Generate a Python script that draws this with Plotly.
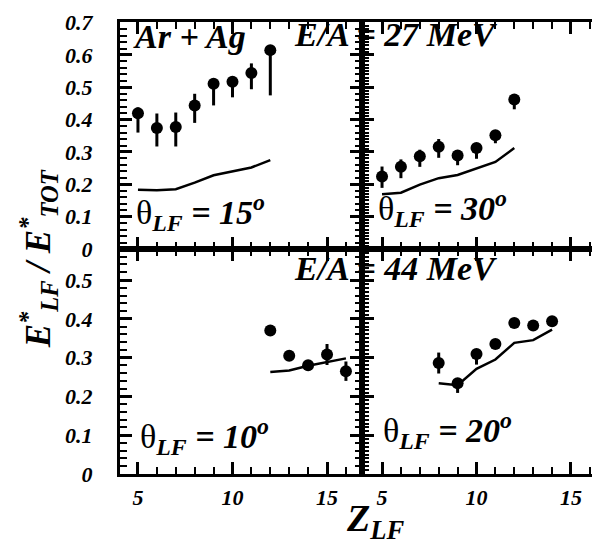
import plotly.graph_objects as go
from plotly.subplots import make_subplots

# E/A = 27 MeV, theta = 15 deg (top left)
z_tl = [5, 6, 7, 8, 9, 10, 11, 12]
e_tl = [0.420, 0.374, 0.377, 0.444, 0.511, 0.517, 0.544, 0.615]
up_tl = [0.018, 0.045, 0.045, 0.036, 0.014, 0.010, 0.030, 0.0]
dn_tl = [0.060, 0.057, 0.060, 0.054, 0.067, 0.048, 0.050, 0.140]
zc_tl = [5, 6, 7, 8, 9, 10, 11, 12]
calc_tl = [0.183, 0.182, 0.185, 0.205, 0.228, 0.240, 0.252, 0.275]

# E/A = 27 MeV, theta = 30 deg (top right)
z_tr = [5, 6, 7, 8, 9, 10, 11, 12]
e_tr = [0.224, 0.254, 0.287, 0.316, 0.289, 0.312, 0.352, 0.462]
up_tr = [0.031, 0.023, 0.020, 0.024, 0.010, 0.015, 0.010, 0.010]
dn_tr = [0.035, 0.035, 0.033, 0.034, 0.030, 0.033, 0.025, 0.030]
zc_tr = [5, 6, 7, 8, 9, 10, 11, 12]
calc_tr = [0.169, 0.174, 0.199, 0.219, 0.229, 0.249, 0.269, 0.312]

# E/A = 44 MeV, theta = 10 deg (bottom left)
z_bl = [12, 13, 14, 15, 16]
e_bl = [0.370, 0.305, 0.280, 0.308, 0.265]
up_bl = [0.0, 0.0, 0.0, 0.027, 0.025]
dn_bl = [0.0, 0.0, 0.0, 0.027, 0.025]
zc_bl = [12, 13, 14, 15, 16]
calc_bl = [0.263, 0.267, 0.279, 0.289, 0.298]

# E/A = 44 MeV, theta = 20 deg (bottom right)
z_br = [8, 9, 10, 11, 12, 13, 14]
e_br = [0.286, 0.234, 0.309, 0.335, 0.389, 0.383, 0.394]
up_br = [0.027, 0.010, 0.010, 0.005, 0.0, 0.0, 0.0]
dn_br = [0.027, 0.025, 0.027, 0.005, 0.0, 0.0, 0.0]
zc_br = [8, 9, 10, 11, 12, 13, 14]
calc_br = [0.234, 0.229, 0.271, 0.295, 0.338, 0.345, 0.372]

panels = [
    (1, 1, z_tl, e_tl, up_tl, dn_tl, zc_tl, calc_tl),
    (1, 2, z_tr, e_tr, up_tr, dn_tr, zc_tr, calc_tr),
    (2, 1, z_bl, e_bl, up_bl, dn_bl, zc_bl, calc_bl),
    (2, 2, z_br, e_br, up_br, dn_br, zc_br, calc_br),
]

FONT = "Liberation Serif, Times New Roman, Times, serif"

fig = make_subplots(rows=2, cols=2, column_widths=[242, 236], row_heights=[233, 231],
                    horizontal_spacing=0, vertical_spacing=0)

for r, c, z, e, up, dn, zc, calc in panels:
    fig.add_trace(go.Scatter(x=zc, y=calc, mode="lines",
                             line=dict(color="black", width=2.5)), row=r, col=c)
    fig.add_trace(go.Scatter(x=z, y=e, mode="markers",
                             marker=dict(color="black", size=12),
                             error_y=dict(type="data", symmetric=False, array=up, arrayminus=dn,
                                          color="black", thickness=3, width=0)), row=r, col=c)

tickfont = dict(family=FONT, size=22, color="black", weight="bold", style="italic")

extra = {}
for k, (r, c) in enumerate([(1, 1), (1, 2), (2, 1), (2, 2)]):
    n = "" if k == 0 else str(k + 1)
    xr = [4.05, 16.85] if c == 1 else [3.94, 16.43]
    yr = [0, 0.702] if r == 1 else [0, 0.58]
    fig.update_xaxes(
        range=xr, showline=True, linewidth=3, linecolor="black", mirror="ticks",
        ticks="inside", ticklen=12, tickwidth=3, tickcolor="black", dtick=5,
        minor=dict(ticks="inside", ticklen=7, tickwidth=2, tickcolor="black", dtick=1),
        showgrid=False, zeroline=False,
        showticklabels=(r == 2), tickfont=tickfont, ticklabelstandoff=2,
        ticklabeloverflow="allow", row=r, col=c)
    fig.update_yaxes(
        range=yr, showline=True, linewidth=3, linecolor="black",
        mirror="ticks" if c == 1 else False,
        ticks="inside", ticklen=12, tickwidth=3, tickcolor="black", dtick=0.1,
        minor=dict(ticks="inside", ticklen=7, tickwidth=2, tickcolor="black",
                   dtick=0.02 if c == 1 else 0.01),
        showgrid=False, zeroline=False,
        showticklabels=(c == 1), tickfont=tickfont, ticklabelstandoff=20,
        ticklabeloverflow="allow", row=r, col=c)
    if c == 2:
        # ticks on the right-hand frame
        extra["yaxis" + str(k + 5)] = dict(overlaying="y" + n, anchor="x" + n, side="right",
                                           range=yr, ticks="inside", ticklen=9, tickwidth=2,
                                           tickcolor="black", dtick=0.1, showline=False,
                                           showticklabels=False, showgrid=False,
                                           zeroline=False)
fig.update_layout(**extra)

# dotted right-hand frame of the right panels
fig.add_shape(type="line", xref="paper", yref="paper", x0=0.999, x1=0.999, y0=0, y1=1,
              line=dict(color="black", width=2, dash="dot"))

annfont = dict(family=FONT, size=34, color="black")
bi = dict(family=FONT, size=34, color="black", weight="bold", style="italic")
notes = [
    ("Ar + Ag", 0.024, 0.968, bi),
    ("E/A = 27 MeV", 0.360, 0.972, bi),
    ("E/A = 44 MeV", 0.360, 0.455, bi),
    ("θ<b><i><sub>LF</sub> = 15<sup>o</sup></i></b>", 0.030, 0.578, annfont),
    ("θ<b><i><sub>LF</sub> = 30<sup>o</sup></i></b>", 0.536, 0.588, annfont),
    ("θ<b><i><sub>LF</sub> = 10<sup>o</sup></i></b>", 0.038, 0.084, annfont),
    ("θ<b><i><sub>LF</sub> = 20<sup>o</sup></i></b>", 0.546, 0.096, annfont),
]
for txt, x, y, f in notes:
    fig.add_annotation(text=txt, x=x, y=y, xref="paper", yref="paper",
                       xanchor="left", yanchor="middle", showarrow=False, font=f)

fig.add_annotation(text="Z<sub>LF</sub>", x=0.468, y=-0.162, xref="paper", yref="paper",
                   xanchor="left", yanchor="bottom", showarrow=False,
                   font=dict(family=FONT, size=38, color="black", weight="bold", style="italic"))
fig.add_annotation(text="E<sup>*</sup><sub>LF</sub> / E<sup>*</sup><sub>TOT</sub>",
                   x=-0.1715, y=0.475, xref="paper", yref="paper", textangle=-90,
                   xanchor="center", yanchor="middle", showarrow=False,
                   font=dict(family=FONT, size=35, color="black", weight="bold", style="italic"))

# the page adds an 8 px body margin, so the figure is 8 px smaller than the window
fig.update_layout(width=592, height=542, showlegend=False,
                  margin=dict(l=112, r=2, t=2, b=76),
                  plot_bgcolor="white", paper_bgcolor="white")

fig.write_html("out.html")
